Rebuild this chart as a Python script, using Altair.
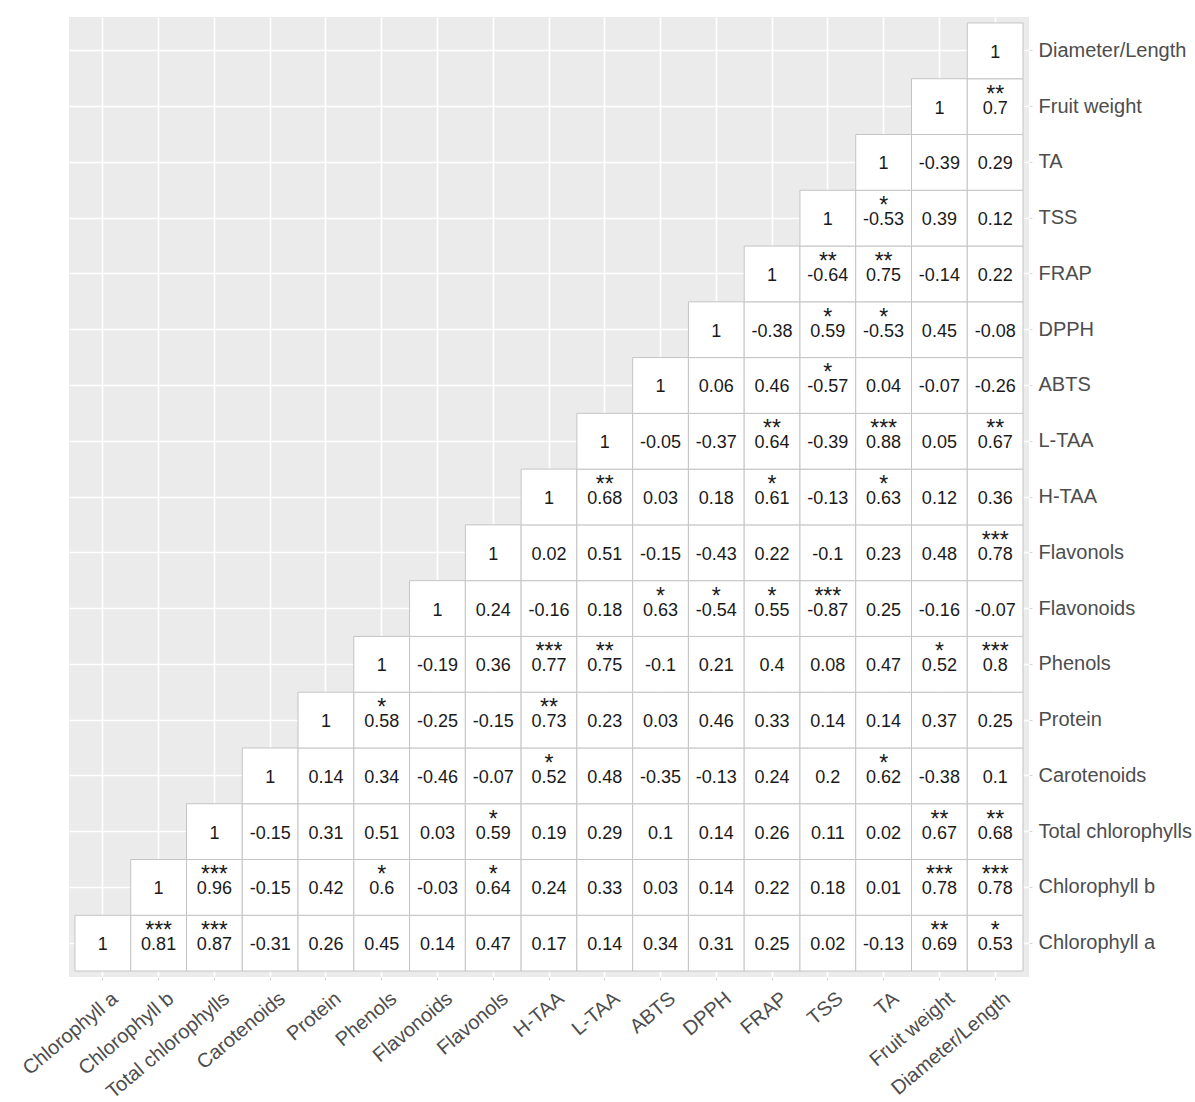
import altair as alt
import pandas as pd

# Variables, in column order (left to right) and row order (bottom to top)
variables = [
    "Chlorophyll a", "Chlorophyll b", "Total chlorophylls", "Carotenoids",
    "Protein", "Phenols", "Flavonoids", "Flavonols", "H-TAA", "L-TAA",
    "ABTS", "DPPH", "FRAP", "TSS", "TA", "Fruit weight", "Diameter/Length",
]

# Correlation coefficients per row, starting at the diagonal
r_chl_a = [1, 0.81, 0.87, -0.31, 0.26, 0.45, 0.14, 0.47, 0.17, 0.14, 0.34, 0.31, 0.25, 0.02, -0.13, 0.69, 0.53]
r_chl_b = [1, 0.96, -0.15, 0.42, 0.6, -0.03, 0.64, 0.24, 0.33, 0.03, 0.14, 0.22, 0.18, 0.01, 0.78, 0.78]
r_tot_chl = [1, -0.15, 0.31, 0.51, 0.03, 0.59, 0.19, 0.29, 0.1, 0.14, 0.26, 0.11, 0.02, 0.67, 0.68]
r_carot = [1, 0.14, 0.34, -0.46, -0.07, 0.52, 0.48, -0.35, -0.13, 0.24, 0.2, 0.62, -0.38, 0.1]
r_protein = [1, 0.58, -0.25, -0.15, 0.73, 0.23, 0.03, 0.46, 0.33, 0.14, 0.14, 0.37, 0.25]
r_phenols = [1, -0.19, 0.36, 0.77, 0.75, -0.1, 0.21, 0.4, 0.08, 0.47, 0.52, 0.8]
r_flavonoids = [1, 0.24, -0.16, 0.18, 0.63, -0.54, 0.55, -0.87, 0.25, -0.16, -0.07]
r_flavonols = [1, 0.02, 0.51, -0.15, -0.43, 0.22, -0.1, 0.23, 0.48, 0.78]
r_htaa = [1, 0.68, 0.03, 0.18, 0.61, -0.13, 0.63, 0.12, 0.36]
r_ltaa = [1, -0.05, -0.37, 0.64, -0.39, 0.88, 0.05, 0.67]
r_abts = [1, 0.06, 0.46, -0.57, 0.04, -0.07, -0.26]
r_dpph = [1, -0.38, 0.59, -0.53, 0.45, -0.08]
r_frap = [1, -0.64, 0.75, -0.14, 0.22]
r_tss = [1, -0.53, 0.39, 0.12]
r_ta = [1, -0.39, 0.29]
r_fw = [1, 0.7]
r_dl = [1]

# Significance marks per row, aligned with the coefficients above
s_chl_a = ["", "***", "***", "", "", "", "", "", "", "", "", "", "", "", "", "**", "*"]
s_chl_b = ["", "***", "", "", "*", "", "*", "", "", "", "", "", "", "", "***", "***"]
s_tot_chl = ["", "", "", "", "", "*", "", "", "", "", "", "", "", "**", "**"]
s_carot = ["", "", "", "", "", "*", "", "", "", "", "", "*", "", ""]
s_protein = ["", "*", "", "", "**", "", "", "", "", "", "", "", ""]
s_phenols = ["", "", "", "***", "**", "", "", "", "", "", "*", "***"]
s_flavonoids = ["", "", "", "", "*", "*", "*", "***", "", "", ""]
s_flavonols = ["", "", "", "", "", "", "", "", "", "***"]
s_htaa = ["", "**", "", "", "*", "", "*", "", ""]
s_ltaa = ["", "", "", "**", "", "***", "", "**"]
s_abts = ["", "", "", "*", "", "", ""]
s_dpph = ["", "", "*", "*", "", ""]
s_frap = ["", "**", "**", "", ""]
s_tss = ["", "*", "", ""]
s_ta = ["", "", ""]
s_fw = ["", "**"]
s_dl = [""]

rows_r = [r_chl_a, r_chl_b, r_tot_chl, r_carot, r_protein, r_phenols, r_flavonoids,
          r_flavonols, r_htaa, r_ltaa, r_abts, r_dpph, r_frap, r_tss, r_ta, r_fw, r_dl]
rows_s = [s_chl_a, s_chl_b, s_tot_chl, s_carot, s_protein, s_phenols, s_flavonoids,
          s_flavonols, s_htaa, s_ltaa, s_abts, s_dpph, s_frap, s_tss, s_ta, s_fw, s_dl]

records = []
for j, (vals, stars) in enumerate(zip(rows_r, rows_s)):
    for k, (v, s) in enumerate(zip(vals, stars)):
        records.append({
            "col": variables[j + k],
            "row": variables[j],
            "r": v,
            "label": f"{v:g}",
            "sig": s,
        })
df = pd.DataFrame(records)

x_enc = alt.X(
    "col:N",
    sort=variables,
    scale=alt.Scale(paddingInner=0, paddingOuter=0.107),
    axis=alt.Axis(
        title=None, labelAngle=-40, labelAlign="right", labelBaseline="top",
        labelOffset=6, labelPadding=8, grid=True, bandPosition=0.5, zindex=0,
    ),
)
y_enc = alt.Y(
    "row:N",
    sort=list(reversed(variables)),
    scale=alt.Scale(paddingInner=0, paddingOuter=0.107),
    axis=alt.Axis(
        title=None, orient="right", labelPadding=6, grid=True, bandPosition=0.5, zindex=0,
    ),
)

base = alt.Chart(df).encode(x=x_enc, y=y_enc)

tiles = base.mark_rect(fill="white", stroke="#C4C4C4", strokeWidth=1)

values = base.mark_text(
    font="Liberation Sans", fontSize=18, color="#1A1A1A", baseline="middle", dy=2
).encode(text="label:N")

signif = base.mark_text(
    font="Liberation Sans", fontSize=23, color="#1A1A1A", baseline="alphabetic", dy=-5
).encode(text="sig:N")

chart = (
    alt.layer(tiles, values, signif)
    .properties(
        width=960,
        height=960,
        background="white",
        autosize=alt.AutoSizeParams(type="none"),
        padding={"left": 69, "top": 17, "right": 166, "bottom": 125},
    )
    .configure_view(fill="#EBEBEB", stroke=None)
    .configure_axis(
        domain=False,
        gridColor="white",
        gridWidth=1.6,
        gridOpacity=1,
        tickColor="#D6D6D6",
        tickSize=3,
        labelFont="Liberation Sans",
        labelFontSize=20,
        labelColor="#4D4D4D",
    )
)

chart.save("out.html", embed_options={"renderer": "svg", "actions": False})
